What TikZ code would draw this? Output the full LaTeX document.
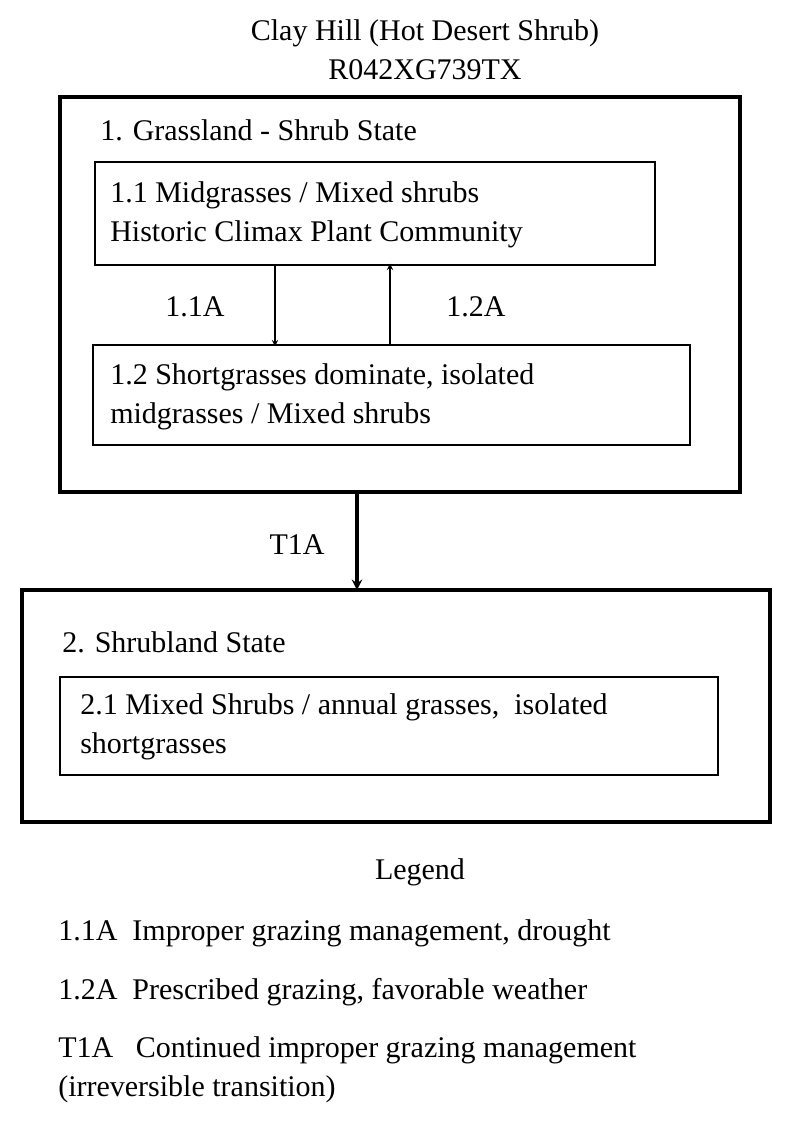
\documentclass[tikz,border=0pt]{standalone}
\usepackage{fontspec}
\setmainfont{Liberation Serif}
\usetikzlibrary{positioning}
\tikzset{
    statebox/.style={draw, line width=2.4pt},
    phasebox/.style={draw, line width=1.1pt},
    txt/.style={anchor=west, align=left, inner sep=0pt, font=\fontsize{22.5}{29}\selectfont},
    flow/.style={->, line width=1.1pt, >=stealth, shorten >=-1pt}
}
\begin{document}
\begin{tikzpicture}[x=0.75pt, y=-0.75pt]
\useasboundingbox (0,0) rectangle (800,1122);
\node[txt, anchor=center, align=center] (title) at (425,50) {Clay Hill (Hot Desert Shrub)\\R042XG739TX};
% state 1
\draw[statebox] (60,97) rectangle (740,492);
\node[txt] (s1) at (100,130) {1. Grassland - Shrub State};
\draw[phasebox] (95,162) rectangle (655,265);
\node[txt] (p11) at (110,215) {1.1 Midgrasses / Mixed shrubs\\Historic Climax Plant Community};
\draw[phasebox] (93,345) rectangle (690,445);
\node[txt] (p12) at (110,397) {1.2 Shortgrasses dominate, isolated\\midgrasses / Mixed shrubs};
\coordinate (a1) at (275,265); \coordinate (b1) at (275,345);
\coordinate (a2) at (390,345); \coordinate (b2) at (390,265);
\draw[flow] (a1) -- (b1);
\draw[flow] (a2) -- (b2);
\node[txt, anchor=center] (l11) at (195,307) {1.1A};
\node[txt, anchor=center] (l12) at (476,307) {1.2A};
% transition
\coordinate (t0) at (357,492); \coordinate (t1) at (357,590);
\draw[->, line width=2.4pt, >=stealth] (t0) -- (t1);
\node[txt, anchor=center] (lt) at (297,545) {T1A};
% state 2
\draw[statebox] (22,590) rectangle (770,822);
\node[txt] (s2) at (62,642) {2. Shrubland State};
\draw[phasebox] (60,677) rectangle (718,775);
\node[txt] (p21) at (80,727) {2.1 Mixed Shrubs / annual grasses,\ \ isolated\\shortgrasses};
% legend
\node[txt, anchor=center] (leg) at (420,872) {Legend};
\node[txt] (g1) at (58,933) {1.1A\ \ Improper grazing management, drought};
\node[txt] (g2) at (58,992) {1.2A\ \ Prescribed grazing, favorable weather};
\node[txt] (g3) at (58,1070) {T1A\ \ \ Continued improper grazing management\\(irreversible transition)};
\end{tikzpicture}
\end{document}
